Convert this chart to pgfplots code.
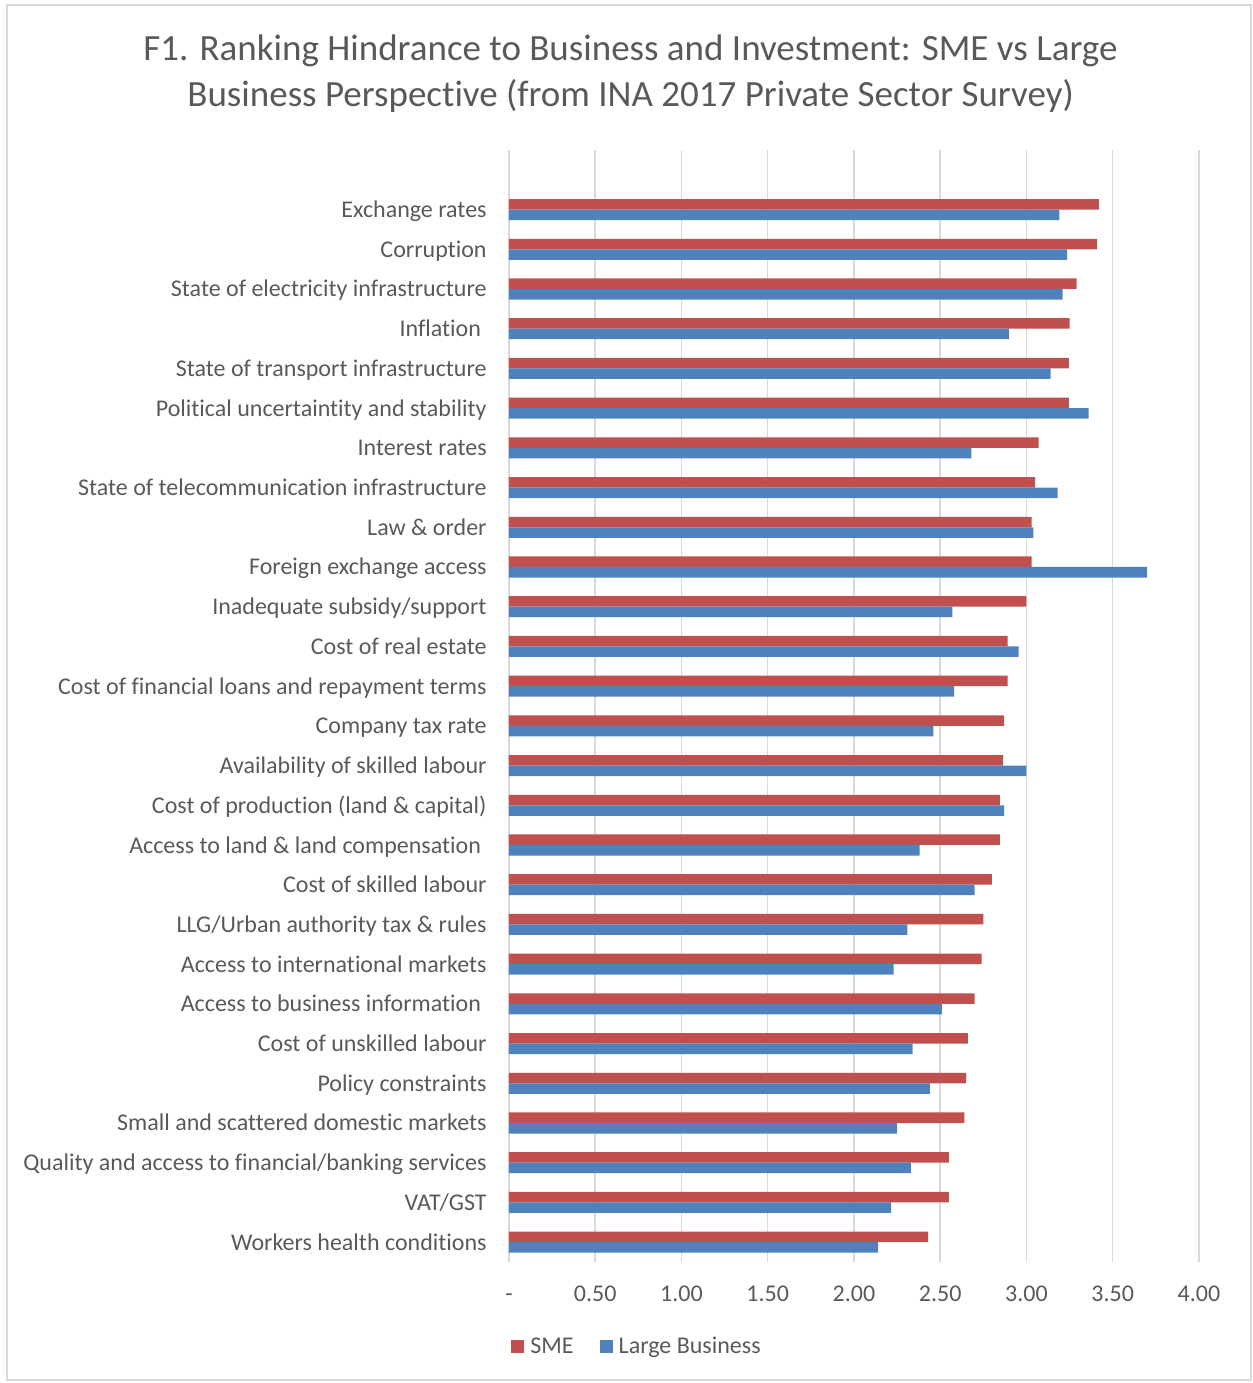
\documentclass[border=0pt]{standalone}
\usepackage{fontspec}
\setmainfont{Carlito}[Ligatures=NoCommon]
\usepackage{pgfplots}
\pgfplotsset{compat=1.18}
\definecolor{smered}{HTML}{C0504D}
\definecolor{lbblue}{HTML}{4F81BD}
\definecolor{txtgray}{HTML}{595959}
\definecolor{gridgray}{HTML}{D9D9D9}
\begin{document}
\begin{tikzpicture}
\useasboundingbox (-254.5pt,-60.5pt) rectangle (372pt,631pt);
\draw[gridgray, line width=0.8pt] (-251pt,-59pt) rectangle (371pt,628.5pt);
\node[align=center, font=\fontsize{18.5pt}{23pt}\selectfont, text=txtgray] at (60.75pt,594pt)
 {F1. Ranking Hindrance to Business and Investment: SME vs Large\\Business Perspective (from INA 2017 Private Sector Survey)};
\begin{axis}[
  at={(0pt,0pt)}, anchor=south west,
  scale only axis, width=345pt, height=556pt,
  xbar, bar width=0.265,
  xmin=0, xmax=4, ymin=-0.5, ymax=27.5,
  xtick={0,0.5,1,1.5,2,2.5,3,3.5,4},
  xticklabels={-,0.50,1.00,1.50,2.00,2.50,3.00,3.50,4.00},
  ytick={0,...,26},
  yticklabels={Workers health conditions,VAT/GST,Quality and access to financial/banking services,Small and scattered domestic markets,Policy constraints,Cost of unskilled labour,Access to business information\kern2.8pt,Access to international markets,LLG/Urban authority tax \& rules,Cost of skilled labour,Access to land \& land compensation\kern2.8pt,Cost of production (land \& capital),Availability of skilled labour,Company tax rate,Cost of financial loans and repayment terms,Cost of real estate,Inadequate subsidy/support,Foreign exchange access,Law \& order,State of telecommunication infrastructure,Interest rates,Political uncertaintity and stability,State of transport infrastructure,Inflation\kern2.8pt,State of electricity infrastructure,Corruption,Exchange rates},
  major tick length=0,
  axis line style={draw=none},
  xmajorgrids, grid style={gridgray, line width=0.75pt},
  tick label style={font=\fontsize{12pt}{14pt}\selectfont, text=txtgray},
  yticklabel style={anchor=east, inner sep=0pt, xshift=-11pt, yshift=-1pt, text height=9pt, text depth=3pt},
  xticklabel style={anchor=north, inner sep=0pt, yshift=-11pt, text height=8.5pt, text depth=0pt},
  /pgf/number format/assume math mode=true,
  legend columns=2,
  legend style={at={(0.1885,-0.0764)}, anchor=center, draw=none, fill=none,
    font=\fontsize{12pt}{14pt}\selectfont, text=txtgray,
    /tikz/every even column/.append style={column sep=10pt},
    nodes={inner xsep=3pt}},
  legend image code/.code={\fill[#1, draw=none] (0pt,-3.25pt) rectangle (6.5pt,3.25pt);},
]
\addplot[fill=smered, draw=none, bar shift=0.1325] coordinates {
(2.43,0) (2.55,1) (2.55,2) (2.64,3) (2.65,4) (2.66,5) (2.70,6) (2.74,7) (2.75,8) (2.80,9)
(2.845,10) (2.845,11) (2.865,12) (2.87,13) (2.89,14) (2.89,15) (3.00,16) (3.03,17) (3.03,18) (3.05,19)
(3.07,20) (3.245,21) (3.245,22) (3.25,23) (3.29,24) (3.41,25) (3.42,26)};
\addlegendentry{SME}
\addplot[fill=lbblue, draw=none, bar shift=-0.1325] coordinates {
(2.14,0) (2.215,1) (2.33,2) (2.25,3) (2.44,4) (2.34,5) (2.51,6) (2.23,7) (2.31,8) (2.70,9)
(2.38,10) (2.87,11) (3.00,12) (2.46,13) (2.58,14) (2.955,15) (2.57,16) (3.70,17) (3.04,18) (3.18,19)
(2.68,20) (3.36,21) (3.14,22) (2.90,23) (3.21,24) (3.235,25) (3.19,26)};
\addlegendentry{Large Business}
\end{axis}
\end{tikzpicture}
\end{document}
